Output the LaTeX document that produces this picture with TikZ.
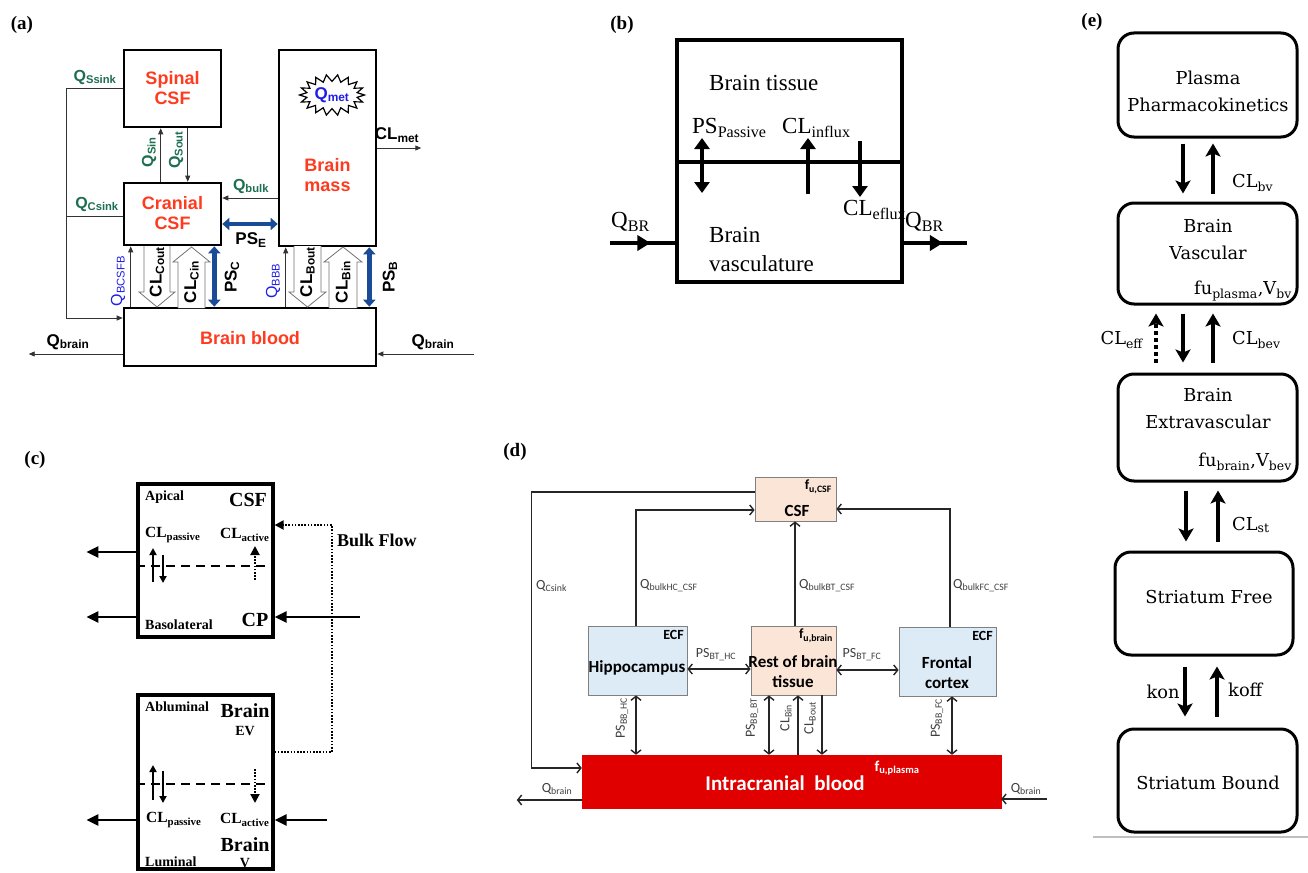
\documentclass[tikz,border=0pt]{standalone}
\usepackage{fontspec}
\setmainfont{Liberation Serif}
\newfontfamily\arialf{Liberation Sans}
\newfontfamily\calib{Carlito}
\newfontfamily\camb{DejaVu Serif}
\usetikzlibrary{arrows.meta,calc,decorations.markings}
\definecolor{aorange}{RGB}{255,59,31}
\definecolor{agreen}{RGB}{30,110,80}
\definecolor{ablue}{RGB}{30,30,230}
\definecolor{adblue}{RGB}{25,75,150}
\definecolor{dpeach}{RGB}{251,229,214}
\definecolor{dlblue}{RGB}{221,235,247}
\definecolor{dred}{RGB}{224,0,0}
\definecolor{dgray}{RGB}{64,64,64}
\begin{document}
\begin{tikzpicture}[x=1pt,y=-1pt,
 plab/.style={inner sep=0, font=\fontsize{19}{22}\selectfont\bfseries},
 abox/.style={draw, line width=2.6pt, inner sep=0},
 atxt/.style={inner sep=0, align=center, text=aorange, font=\arialf\bfseries\fontsize{18}{20}\selectfont},
 aline/.style={draw=black!80, line width=0.9pt},
 atip/.style={-{Triangle[length=6pt,width=5pt]}},
 agrn/.style={inner sep=0, text=agreen, font=\arialf\bfseries\fontsize{16}{18}\selectfont},
 ablu/.style={inner sep=0, text=ablue, font=\arialf\fontsize{16}{18}\selectfont},
 ablk/.style={inner sep=0, font=\arialf\bfseries\fontsize{17}{19}\selectfont},
 bdbl/.style={draw=adblue, line width=4.5pt, {Triangle[length=7pt,width=12pt]}-{Triangle[length=7pt,width=12pt]}},
 hollow/.style={draw=black!55, line width=0.8pt, fill=white},
 bfont/.style={inner sep=0, font=\fontsize{23}{27}\selectfont},
 barr/.style={line width=4.5pt, -{Triangle[length=11pt,width=15pt]}},
 bdarr/.style={line width=4.5pt, {Triangle[length=11pt,width=15pt]}-{Triangle[length=11pt,width=15pt]}},
 midarr/.style={line width=4.5pt, postaction={decorate}, decoration={markings, mark=at position 0.62 with {\arrow{Triangle[length=13pt,width=15pt]}}}},
 cbox/.style={draw, line width=3.2pt, inner sep=0},
 ctxt/.style={inner sep=0, font=\bfseries\fontsize{14}{16}\selectfont},
 cbig/.style={inner sep=0, font=\bfseries\fontsize{20}{22}\selectfont},
 ccl/.style={inner sep=0, font=\bfseries\fontsize{15.5}{18}\selectfont},
 cout/.style={line width=2.6pt, -{Triangle[length=12pt,width=11pt]}},
 csmall/.style={line width=2.2pt, -{Triangle[length=7pt,width=7pt]}},
 cdot/.style={line width=2pt, dash pattern=on 1.6pt off 1.6pt, -{Triangle[length=9pt,width=9pt]}},
 dbox/.style={draw=black!50, line width=0.8pt, inner sep=0},
 darr/.style={draw=black!85, line width=1.4pt, -{Straight Barb[length=4pt,width=10pt]}},
 ddbl/.style={draw=black!85, line width=1.4pt, {Straight Barb[length=4pt,width=10pt]}-{Straight Barb[length=4pt,width=10pt]}},
 dlab/.style={inner sep=0, text=dgray, font=\calib\fontsize{14}{16}\selectfont},
 dname/.style={inner sep=0, align=center, font=\calib\bfseries\fontsize{17}{20}\selectfont},
 dsmall/.style={inner sep=0, font=\calib\bfseries\fontsize{14}{16}\selectfont},
 ebox/.style={draw, line width=3pt, rounded corners=16pt, inner sep=0},
 etxt/.style={inner sep=0, align=center, font=\camb\fontsize{17.8}{27}\selectfont},
 earr/.style={line width=3.6pt, -{Stealth[length=13pt,width=15pt,inset=3pt]}},
 edot/.style={line width=3.6pt, dash pattern=on 4pt off 3pt, -{Stealth[length=13pt,width=15pt,inset=3pt]}}
]
\useasboundingbox (0,0) rectangle (1308,872);
\fill[white] (0,0) rectangle (1308,872);

% ================= (a) =================
\node[plab] at (22,25) {(a)};
\node[abox, minimum width=97pt, minimum height=77pt] (spinal) at (172.5,88.5) {};
\node[abox, minimum width=97pt, minimum height=62pt] (cranial) at (172.5,214) {};
\node[abox, minimum width=97pt, minimum height=196pt] (mass) at (327.5,148) {};
\node[abox, minimum width=252pt, minimum height=58pt] (blood) at (250,337) {};
\node[atxt] at (172.5,88) {Spinal\\CSF};
\node[atxt] at (172.5,213) {Cranial\\CSF};
\node[atxt] at (327.5,175) {Brain\\mass};
\node[atxt] at (250,338) {Brain blood};
\draw[line width=1.2pt, line join=miter] plot[domain=0:360, samples=37] ({332+29*(1+0.12*cos(18*\x))*cos(\x)}, {95+17*(1+0.2*cos(18*\x))*sin(\x)}) -- cycle;
\node[inner sep=0, text=ablue, font=\arialf\bfseries\fontsize{17}{19}\selectfont] (qmet) at (332,95) {Q\textsubscript{met}};

\draw[aline, atip] (spinal.west) -- ++(-56,0) |- ([yshift=19pt]blood.west);
\draw[aline] ([yshift=-2pt]cranial.west) -- ++(-56,0);
\node[agrn] at (95,77) {Q\textsubscript{Ssink}};
\node[agrn] at (97,204) {Q\textsubscript{Csink}};
\draw[aline, atip] ([xshift=38pt]cranial.north west) -- ([xshift=38pt]spinal.south west);
\draw[aline, atip] ([xshift=65pt]spinal.south west) -- ([xshift=65pt]cranial.north west);
\node[agrn, rotate=90] at (149,152) {Q\textsubscript{Sin}};
\node[agrn, rotate=90] at (176,150) {Q\textsubscript{Sout}};
\draw[aline, atip] ([yshift=-50pt]mass.west) -- ([yshift=16pt]cranial.east);
\node[agrn] at (251,186) {Q\textsubscript{bulk}};
\draw[bdbl] ([yshift=-10pt]cranial.east) -- ([yshift=-76pt]mass.west);
\node[ablk] at (251,240) {PS\textsubscript{E}};
\draw[aline, atip] (mass.east) -- ++(44,0);
\node[ablk] at (397,135) {CL\textsubscript{met}};
\draw[aline, atip] ([yshift=-17pt]blood.west) -- ++(-94,0);
\node[ablk] at (68,342) {Q\textsubscript{brain}};
\draw[aline, atip] ([xshift=97pt,yshift=-17pt]blood.east) -- ([yshift=-17pt]blood.east);
\node[ablk] at (433,342) {Q\textsubscript{brain}};

\draw[aline, atip] ([xshift=8pt]blood.north west) -- ([xshift=8pt]cranial.south west);
\node[ablu, rotate=90] at (118,281) {Q\textsubscript{BCSFB}};
\filldraw[hollow] (144,246) -- (144,292) -- (139,292) -- (157,307) -- (175,292) -- (170,292) -- (170,246);
\filldraw[hollow] (178,308) -- (178,262) -- (173,262) -- (191.5,247) -- (210,262) -- (205,262) -- (205,308);
\node[ablk, rotate=90] at (157,272) {CL\textsubscript{Cout}};
\node[ablk, rotate=90] at (191.5,282) {CL\textsubscript{Cin}};
\draw[bdbl] ($(cranial.south east)+(-8,0)$) -- ($(cranial.south east |- blood.north)+(-8,0)$);
\node[ablk, rotate=90] at (232,277) {PS\textsubscript{C}};

\draw[aline, atip] ($(mass.south west |- blood.north)+(8,0)$) -- ($(mass.south west)+(8,0)$);
\node[ablu, rotate=90] at (273,281) {Q\textsubscript{BBB}};
\filldraw[hollow] (294,246) -- (294,292) -- (289,292) -- (307.5,307) -- (326,292) -- (321,292) -- (321,246);
\filldraw[hollow] (329,308) -- (329,262) -- (324,262) -- (343,247) -- (362,262) -- (357,262) -- (357,308);
\node[ablk, rotate=90] at (307.5,272) {CL\textsubscript{Bout}};
\node[ablk, rotate=90] at (343,282) {CL\textsubscript{Bin}};
\draw[bdbl] ($(mass.south east)+(-8,0)$) -- ($(mass.south east |- blood.north)+(-8,0)$);
\node[ablk, rotate=90] at (390,277) {PS\textsubscript{B}};

% ================= (b) =================
\node[plab] at (622,25) {(b)};
\node[bfont, anchor=west] at (709,83) {Brain tissue};
\node[bfont, anchor=west] at (692,128) {PS\textsubscript{Passive}};
\node[bfont, anchor=west] at (782,128) {CL\textsubscript{influx}};
\node[bfont, anchor=west] at (843,210) {CL\textsubscript{eflux}};
\node[bfont, anchor=west] at (709,235) {Brain};
\node[bfont, anchor=west] at (709,264) {vasculature};
\node[bfont, anchor=west] at (611,222) {Q\textsubscript{BR}};
\node[bfont, anchor=west] at (905,222) {Q\textsubscript{BR}};
\node[draw, line width=3.5pt, minimum width=225pt, minimum height=242pt, inner sep=0] (bbox) at (789.5,161) {};
\draw[line width=3.5pt] ([yshift=-1pt]bbox.west) -- ([yshift=-1pt]bbox.east);
\coordinate (psT) at (702,138); \coordinate (psB) at (702,193);
\coordinate (inB) at (808,194); \coordinate (inT) at (808,138);
\coordinate (efT) at (860,141); \coordinate (efB) at (860,197);
\draw[bdarr] (psT) -- (psB);
\draw[barr] (inB) -- (inT);
\draw[barr] (efT) -- (efB);
\coordinate (qbrL) at (610,243); \coordinate (qbrR) at (967,243);
\draw[midarr] (qbrL) -- ([yshift=-82pt]bbox.west);
\draw[midarr] ([yshift=-82pt]bbox.east) -- (qbrR);

% ================= (c) =================
\node[plab] at (35,460) {(c)};
\node[cbox, minimum width=135pt, minimum height=153pt] (csfc) at (205.5,560.5) {};
\node[cbox, minimum width=135pt, minimum height=174pt] (brc) at (205.5,782) {};
\node[ctxt, anchor=west] at (145,497) {Apical};
\node[cbig] at (248,500) {CSF};
\node[ccl, anchor=west] at (145,535) {CL\textsubscript{passive}};
\node[ccl, anchor=west] at (220,535) {CL\textsubscript{active}};
\draw[line width=1.8pt, dash pattern=on 9pt off 6pt] ([yshift=-5.5pt]csfc.west) -- ([yshift=-5.5pt]csfc.east);
\coordinate (c1a) at (153,582); \coordinate (c1b) at (153,548);
\coordinate (c2a) at (163,555); \coordinate (c2b) at (163,583);
\coordinate (c3a) at (255,580); \coordinate (c3b) at (255,546);
\draw[csmall] (c1a) -- (c1b);
\draw[csmall] (c2a) -- (c2b);
\draw[cdot] (c3a) -- (c3b);
\draw[cout] ([yshift=8.5pt]csfc.west) -- ++(-50,0);
\draw[cout] ([yshift=-56.5pt]csfc.west) -- ++(-50,0);
\node[ctxt, anchor=west] at (145,625) {Basolateral};
\node[cbig] at (255,620) {CP};
\draw[cout] ([xshift=85pt,yshift=-56.5pt]csfc.east) -- ([yshift=-56.5pt]csfc.east);
\draw[cdot] ([yshift=30pt]brc.east) -| (332,525) -- ([yshift=35.5pt]csfc.east);
\node[inner sep=0, anchor=west, font=\bfseries\fontsize{18}{20}\selectfont] at (337,540) {Bulk Flow};

\node[ctxt, anchor=west] at (145,707) {Abluminal};
\node[cbig] at (245,711) {Brain};
\node[ctxt] at (245,731) {EV};
\draw[line width=1.8pt, dash pattern=on 9pt off 6pt] ([yshift=-2pt]brc.west) -- ([yshift=-2pt]brc.east);
\coordinate (c4a) at (153,800); \coordinate (c4b) at (153,765);
\coordinate (c5a) at (163,771); \coordinate (c5b) at (163,803);
\coordinate (c6a) at (255,769); \coordinate (c6b) at (255,803);
\draw[csmall] (c4a) -- (c4b);
\draw[csmall] (c5a) -- (c5b);
\draw[cdot] (c6a) -- (c6b);
\node[ccl, anchor=west] at (146,820) {CL\textsubscript{passive}};
\node[ccl, anchor=west] at (220,820) {CL\textsubscript{active}};
\draw[cout] ([yshift=-38pt]brc.west) -- ++(-50,0);
\draw[cout] ([xshift=52pt,yshift=-38pt]brc.east) -- ([yshift=-38pt]brc.east);
\node[cbig] at (245,845) {Brain};
\node[ctxt] at (245,863) {V};
\node[ctxt, anchor=west] at (145,862) {Luminal};

% ================= (d) =================
\node[plab] at (515,452) {(d)};
\node[dbox, fill=dpeach, minimum width=81pt, minimum height=44pt] (csfd) at (795.5,499) {};
\node[dbox, fill=dlblue, minimum width=99pt, minimum height=69pt] (hippo) at (637.5,660.5) {};
\node[dbox, fill=dpeach, minimum width=85pt, minimum height=69pt] (rest) at (793.5,660.5) {};
\node[dbox, fill=dlblue, minimum width=97pt, minimum height=69pt] (front) at (947.5,661.5) {};
\node[draw=dred, fill=dred, inner sep=0, minimum width=419pt, minimum height=53pt] (blood2) at (791.5,781.5) {};
\node[dsmall, anchor=north east] at (832,480) {f\textsubscript{u,CSF}};
\node[dname] at (797,511) {CSF};
\node[dsmall, anchor=north east] at (684,630) {ECF};
\node[dname] at (637,668) {Hippocampus};
\node[dsmall, anchor=north east] at (833,629) {f\textsubscript{u,brain}};
\node[dname] at (793,672) {Rest of brain\\tissue};
\node[dsmall, anchor=north east] at (993,631) {ECF};
\node[dname] at (947,673) {Frontal\\cortex};
\node[inner sep=0, text=white, font=\calib\bfseries\fontsize{21}{24}\selectfont] at (785,783) {Intracranial\ \ blood};
\node[inner sep=0, text=white, font=\calib\bfseries\fontsize{15}{17}\selectfont] at (897,768) {f\textsubscript{u,plasma}};

\draw[darr] ([yshift=7pt]csfd.west) -- ++(-223,0) |- ([yshift=13.5pt]blood2.west);
\node[dlab, anchor=west] at (536,586) {Q\textsubscript{Csink}};
\draw[darr] ([xshift=-1.5pt]hippo.north) |- ([yshift=-11pt]csfd.west);
\node[dlab, anchor=west] at (640,586) {Q\textsubscript{bulkHC\_CSF}};
\draw[darr] ([xshift=1.5pt]rest.north) -- ([xshift=-0.5pt]csfd.south);
\node[dlab, anchor=west] at (799,586) {Q\textsubscript{bulkBT\_CSF}};
\draw[darr] ([xshift=2.5pt]front.north) |- ([yshift=-10pt]csfd.east);
\node[dlab, anchor=west] at (953,586) {Q\textsubscript{bulkFC\_CSF}};
\draw[ddbl] ([yshift=-8.5pt]hippo.east) -- ([yshift=-8.5pt]rest.west);
\node[dlab] at (716,655) {PS\textsubscript{BT\_HC}};
\draw[ddbl] ([yshift=-9.5pt]rest.east) -- ([yshift=-8.5pt]front.west);
\node[dlab] at (862,655) {PS\textsubscript{BT\_FC}};
\draw[ddbl] ([xshift=-1.5pt]hippo.south) -- ($(hippo.south |- blood2.north)+(-1.5,0)$);
\node[dlab, rotate=90] at (622,718) {PS\textsubscript{BB\_HC}};
\draw[ddbl] ([xshift=-24.5pt]rest.south) -- ($(rest.south |- blood2.north)+(-24.5,0)$);
\node[dlab, rotate=90] at (752,718) {PS\textsubscript{BB\_BT}};
\draw[darr] ($(rest.south |- blood2.north)+(4.5,0)$) -- ([xshift=4.5pt]rest.south);
\node[dlab, rotate=90] at (786,718) {CL\textsubscript{Bin}};
\draw[darr] ([xshift=28.5pt]rest.south) -- ($(rest.south |- blood2.north)+(28.5,0)$);
\node[dlab, rotate=90] at (810,718) {CL\textsubscript{Bout}};
\draw[ddbl] ([xshift=4.5pt]front.south) -- ($(front.south |- blood2.north)+(4.5,0)$);
\node[dlab, rotate=90] at (937,718) {PS\textsubscript{BB\_FC}};
\draw[darr] ([yshift=-18.5pt]blood2.west) -- ++(-65,0);
\node[dlab] at (557,789) {Q\textsubscript{brain}};
\draw[darr] ([xshift=46pt,yshift=-17.5pt]blood2.east) -- ([yshift=-17.5pt]blood2.east);
\node[dlab] at (1026,789) {Q\textsubscript{brain}};

% ================= (e) =================
\node[plab] at (1092,22) {(e)};
\node[ebox, minimum width=179pt, minimum height=104pt] (plasma) at (1207.5,85) {};
\node[ebox, minimum width=179pt, minimum height=101pt] (vasc) at (1207.5,253.5) {};
\node[ebox, minimum width=179pt, minimum height=107pt] (extra) at (1207.5,427.5) {};
\node[ebox, minimum width=178pt, minimum height=103pt] (free) at (1204,603.5) {};
\node[ebox, minimum width=179pt, minimum height=103pt] (bound) at (1207.5,780.5) {};
\node[etxt] at (1208,91) {Plasma\\Pharmacokinetics};
\node[etxt] at (1208,240) {Brain\\Vascular};
\node[etxt, anchor=east] at (1292,291) {fu\textsubscript{plasma},V\textsubscript{bv}};
\node[etxt] at (1208,409) {Brain\\Extravascular};
\node[etxt, anchor=east] at (1292,462) {fu\textsubscript{brain},V\textsubscript{bev}};
\node[etxt] at (1209,597) {Striatum Free};
\node[etxt] at (1208,783) {Striatum Bound};

\draw[earr] ([xshift=-24.5pt,yshift=-5pt]plasma.south) -- ([xshift=-24.5pt,yshift=8pt]vasc.north);
\draw[earr] ([xshift=5.5pt,yshift=8pt]vasc.north) -- ([xshift=5.5pt,yshift=-5pt]plasma.south);
\node[etxt, anchor=west] at (1232,183) {CL\textsubscript{bv}};
\draw[edot] ([xshift=-51.5pt,yshift=10pt]extra.north) -- ([xshift=-51.5pt,yshift=-8pt]vasc.south);
\draw[earr] ([xshift=-24.5pt,yshift=-8pt]vasc.south) -- ([xshift=-24.5pt,yshift=10pt]extra.north);
\draw[earr] ([xshift=5.5pt,yshift=10pt]extra.north) -- ([xshift=5.5pt,yshift=-8pt]vasc.south);
\node[etxt, anchor=east] at (1143,340) {CL\textsubscript{eff}};
\node[etxt, anchor=west] at (1232,340) {CL\textsubscript{bev}};
\draw[earr] ([xshift=-21.5pt,yshift=-8pt]extra.south) -- ([xshift=-18pt,yshift=9pt]free.north);
\draw[earr] ([xshift=14pt,yshift=9pt]free.north) -- ([xshift=10.5pt,yshift=-8pt]extra.south);
\node[etxt, anchor=west] at (1232,525) {CL\textsubscript{st}};
\draw[earr] ([xshift=-19pt,yshift=-10pt]free.south) -- ([xshift=-22.5pt,yshift=11pt]bound.north);
\draw[earr] ([xshift=9.5pt,yshift=11pt]bound.north) -- ([xshift=13pt,yshift=-10pt]free.south);
\node[etxt] at (1163,692) {kon};
\node[etxt, anchor=west] at (1228,690) {koff};
\draw[black!25, line width=1.5pt] (1093,837) -- (1308,837);
\end{tikzpicture}
\end{document}
